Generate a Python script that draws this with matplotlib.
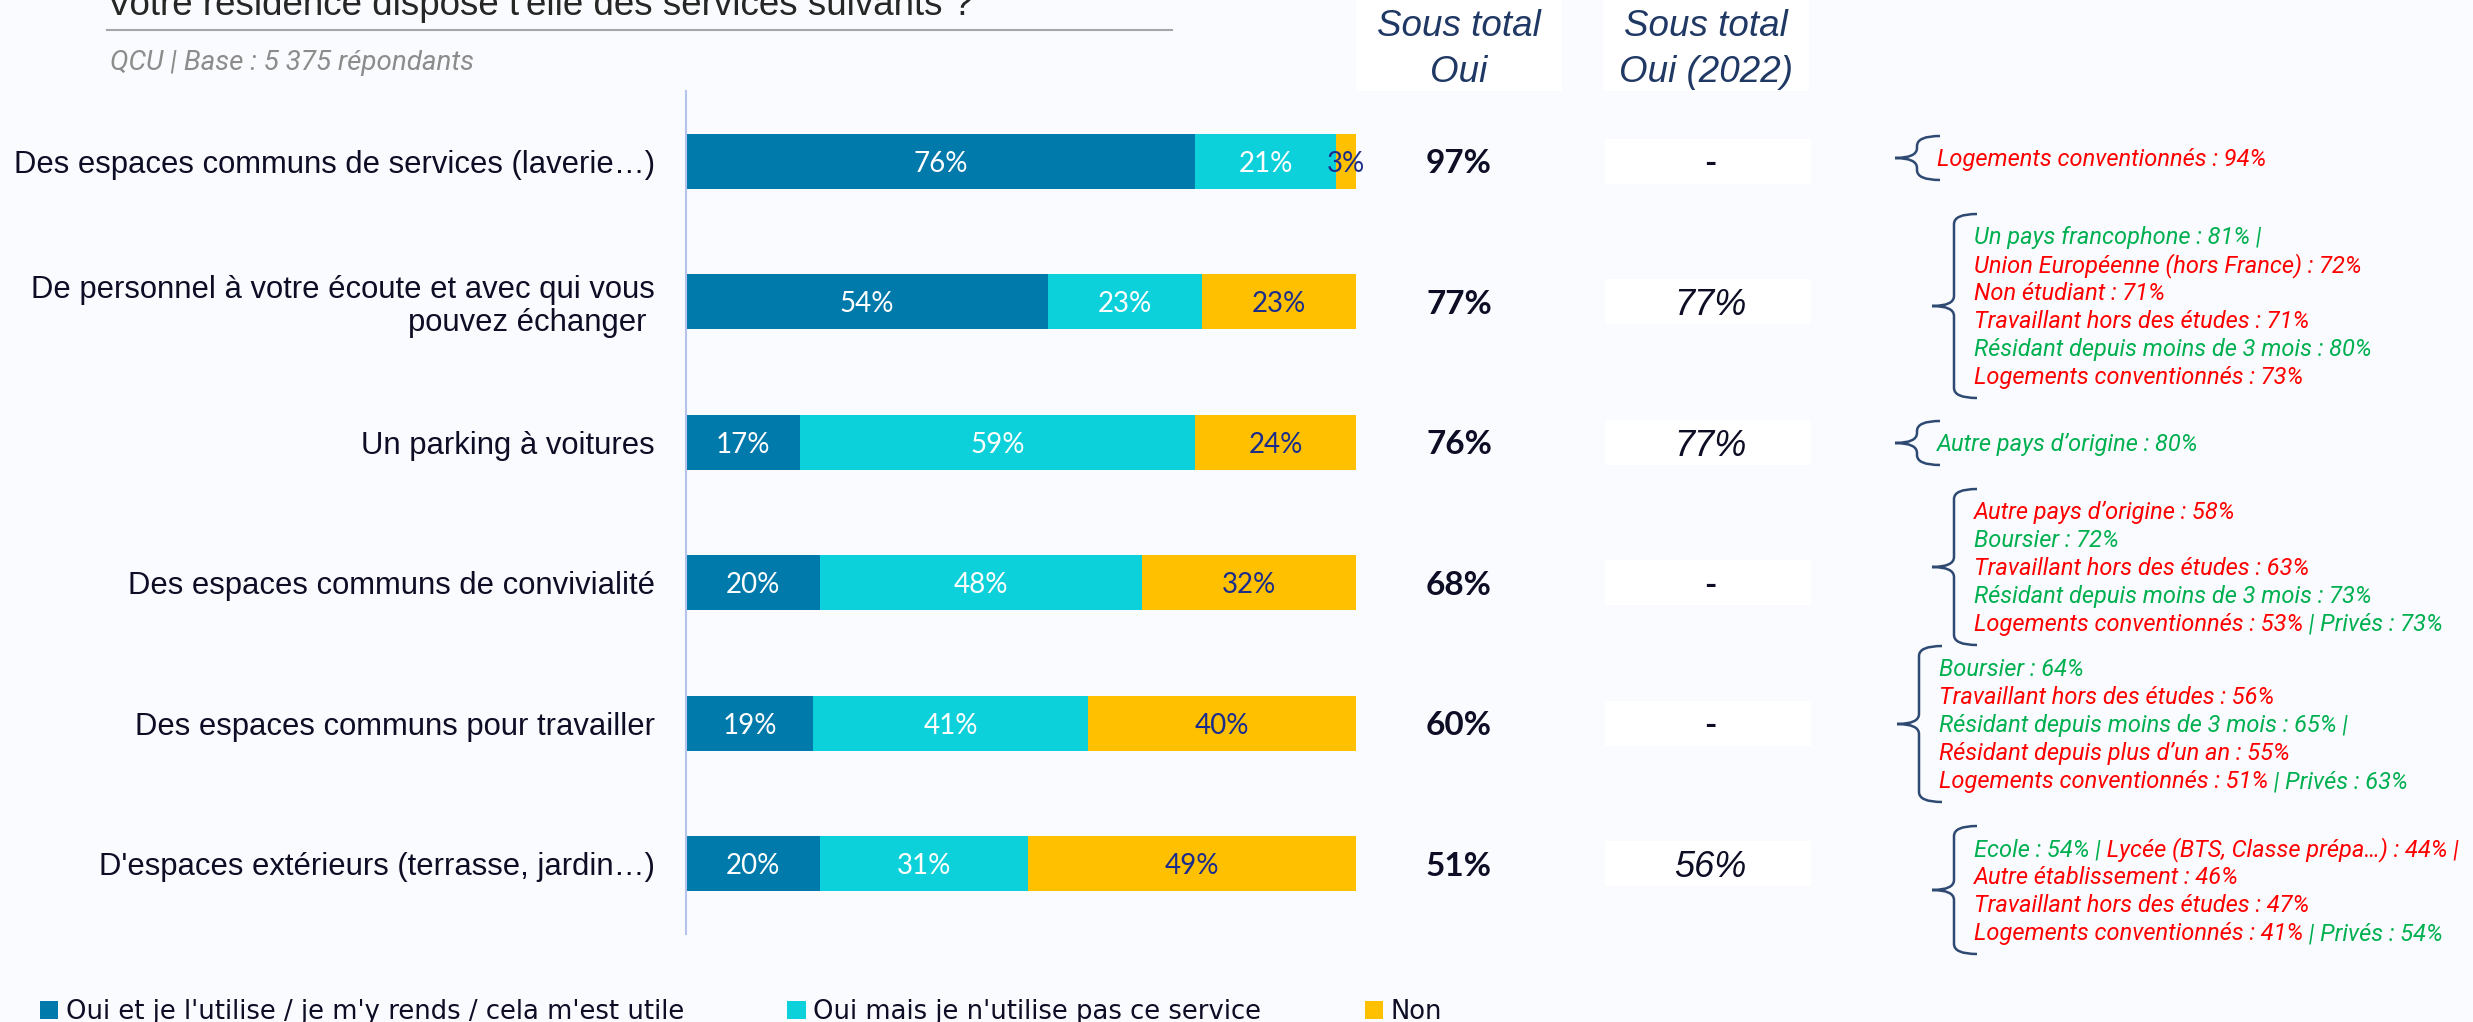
import matplotlib
matplotlib.use("Agg")
import matplotlib.pyplot as plt
import matplotlib.transforms as mtransforms
from matplotlib.path import Path
from matplotlib.patches import PathPatch, Rectangle, Patch
from matplotlib.font_manager import FontProperties

W, H = 2473, 1022

title = "Votre résidence dispose t'elle des services suivants ?"
subtitle = "QCU | Base : 5 375 répondants"

categories = [
    "Des espaces communs de services (laverie…)",
    "De personnel à votre écoute et avec qui vous\npouvez échanger\u00a0",
    "Un parking à voitures",
    "Des espaces communs de convivialité",
    "Des espaces communs pour travailler",
    "D'espaces extérieurs (terrasse, jardin…)",
]
series_names = [
    "Oui et je l'utilise / je m'y rends / cela m'est utile",
    "Oui mais je n'utilise pas ce service",
    "Non",
]
oui_utilise = [76, 54, 17, 20, 19, 20]
oui_pas_utilise = [21, 23, 59, 48, 41, 31]
non = [3, 23, 24, 32, 40, 49]

sous_total = [97, 77, 76, 68, 60, 51]
sous_total_2022 = ["-", "77%", "77%", "-", "-", "56%"]
headers = [["Sous total", "Oui"], ["Sous total", "Oui (2022)"]]

RED, GREEN = "#FF0000", "#00B050"
notes = [
    [[("Logements conventionnés : 94%", RED)]],
    [[("Un pays francophone : 81% |", GREEN)],
     [("Union Européenne (hors France) : 72%", RED)],
     [("Non étudiant : 71%", RED)],
     [("Travaillant hors des études : 71%", RED)],
     [("Résidant depuis moins de 3 mois : 80%", GREEN)],
     [("Logements conventionnés : 73%", RED)]],
    [[("Autre pays d’origine : 80%", GREEN)]],
    [[("Autre pays d’origine : 58%", RED)],
     [("Boursier : 72%", GREEN)],
     [("Travaillant hors des études : 63%", RED)],
     [("Résidant depuis moins de 3 mois : 73%", GREEN)],
     [("Logements conventionnés : 53%", RED), (" | Privés : 73%", GREEN)]],
    [[("Boursier : 64%", GREEN)],
     [("Travaillant hors des études : 56%", RED)],
     [("Résidant depuis moins de 3 mois : 65% |", GREEN)],
     [("Résidant depuis plus d’un an : 55%", RED)],
     [("Logements conventionnés : 51%", RED), (" | Privés : 63%", GREEN)]],
    [[("Ecole : 54% |", GREEN), (" Lycée (BTS, Classe prépa…) : 44% |", RED)],
     [("Autre établissement : 46%", RED)],
     [("Travaillant hors des études : 47%", RED)],
     [("Logements conventionnés : 41%", RED), (" | Privés : 54%", GREEN)]],
]

# layout (pixels)
note_x = [1937, 1974, 1937, 1974, 1939, 1974]
note_y = [158, 306, 443, 567, 724, 890]
LINE_H = 28

colors = ["#0079AB", "#0DD1DA", "#FFC000"]
label_colors = ["white", "white", "#1B2D8C"]
BG = "#FAFBFE"
NAVY = "#1F3864"
INK = "#0D0D26"


def draw_brace(axo, tx, yc, n):
    half = n * 14 + 8
    top, bot = yc - half, yc + half
    tip, vert, end = tx - 42, tx - 20, tx + 3
    r = 10
    verts = [(end, top), (vert, top), (vert, top + r),
             (vert, yc - r), (vert, yc), (tip, yc),
             (vert, yc), (vert, yc + r), (vert, bot - r),
             (vert, bot), (end, bot)]
    codes = [Path.MOVETO, Path.CURVE3, Path.CURVE3, Path.LINETO,
             Path.CURVE3, Path.CURVE3, Path.CURVE3, Path.CURVE3,
             Path.LINETO, Path.CURVE3, Path.CURVE3]
    axo.add_patch(PathPatch(Path(verts, codes), facecolor="none",
                            edgecolor="#2E4A73", lw=1.8))


fig = plt.figure(figsize=(W / 100, H / 100), dpi=100, facecolor=BG)

# overlay in pixel coordinates for the text around the chart
ov = fig.add_axes([0, 0, 1, 1])
ov.set_xlim(0, W)
ov.set_ylim(H, 0)
ov.axis("off")

ax = fig.add_axes([686 / W, 1 - 934 / H, (1356 - 686) / W, (934 - 91) / H])
ax.set_facecolor("none")

rows = list(range(len(categories)))
left = [0] * len(rows)
for vals, col, lc in zip([oui_utilise, oui_pas_utilise, non], colors, label_colors):
    ax.barh(rows, vals, left=left, height=0.39, color=col)
    for i, v in enumerate(vals):
        ax.text(left[i] + v / 2, i, f"{v}%", ha="center", va="center_baseline",
                color=lc, fontsize=20, family="Lato")
    left = [a + b for a, b in zip(left, vals)]

ax.set_xlim(0, 100)
ax.set_ylim(len(rows) - 0.5, -0.5)
ax.set_yticks(rows)
ax.set_yticklabels(categories, fontsize=22.3, family="Liberation Sans",
                   color=INK, linespacing=1.1)
ax.tick_params(left=False, bottom=False, labelbottom=False, pad=19)
for s in ["top", "right", "bottom"]:
    ax.spines[s].set_visible(False)
ax.spines["left"].set_color("#B4C3EC")
ax.spines["left"].set_linewidth(1.5)

# title block
ov.text(107, 15, title, fontsize=26.5, family="Liberation Sans", color="#262626",
        va="baseline")
ov.plot([107, 1172], [30, 30], color="#A6A6A6", lw=1.5)
ov.text(110, 70, subtitle, fontsize=20, family="Roboto", style="italic",
        color="#8C8C8C", va="baseline")

# sub-total columns
tr = mtransforms.blended_transform_factory(ov.transData, ax.transData)
for cx, x0, hdr in zip([1459, 1706], [1356, 1603], headers):
    ov.add_patch(Rectangle((x0, 0), 206, 91, facecolor="white", edgecolor="none"))
    for k, line in enumerate(hdr):
        ov.text(cx, 36 + 46 * k, line, ha="center", va="baseline", fontsize=26.5,
                family="Liberation Sans", style="italic", color=NAVY)

for i in rows:
    ov.text(1459, i, f"{sous_total[i]}%", transform=tr, ha="center",
            va="center_baseline", fontsize=24, family="Lato", weight="bold",
            color=INK)
    ov.add_patch(Rectangle((1605, i - 0.16), 206, 0.32, transform=tr,
                           facecolor="white", edgecolor="none"))
    v = sous_total_2022[i]
    if v == "-":
        ov.text(1710, i, v, transform=tr, ha="center", va="center_baseline",
                fontsize=24, family="Lato", weight="bold", color=INK)
    else:
        ov.text(1710, i, v, transform=tr, ha="center", va="center_baseline",
                fontsize=26, family="Liberation Sans", style="italic", color=INK)

# significance notes with braces
renderer = fig.canvas.get_renderer()
fp_note = FontProperties(family="Roboto", style="italic", size=17)


def text_w(s):
    w1 = renderer.get_text_width_height_descent(s + "|", fp_note, ismath=False)[0]
    w0 = renderer.get_text_width_height_descent("|", fp_note, ismath=False)[0]
    return w1 - w0


for tx, yc, block in zip(note_x, note_y, notes):
    n = len(block)
    draw_brace(ov, tx, yc, n)
    for k, line in enumerate(block):
        yb = yc + (k - (n - 1) / 2) * LINE_H + 8
        prefix = ""
        for seg, col in line:
            ov.text(tx + text_w(prefix) if prefix else tx, yb, seg,
                    fontproperties=fp_note, color=col, va="baseline")
            prefix += seg

# legend
handles = [Patch(facecolor=c) for c in colors]
fig.legend(handles, series_names, loc="lower left",
           bbox_to_anchor=(40 / W, -3 / H), ncol=3, frameon=False,
           prop={"family": "DejaVu Sans", "size": 18.6}, labelcolor=INK,
           handlelength=0.7, handleheight=0.7, handletextpad=0.3,
           columnspacing=4.0, borderpad=0, borderaxespad=0)

fig.savefig("out.png", dpi=100, facecolor=BG)
